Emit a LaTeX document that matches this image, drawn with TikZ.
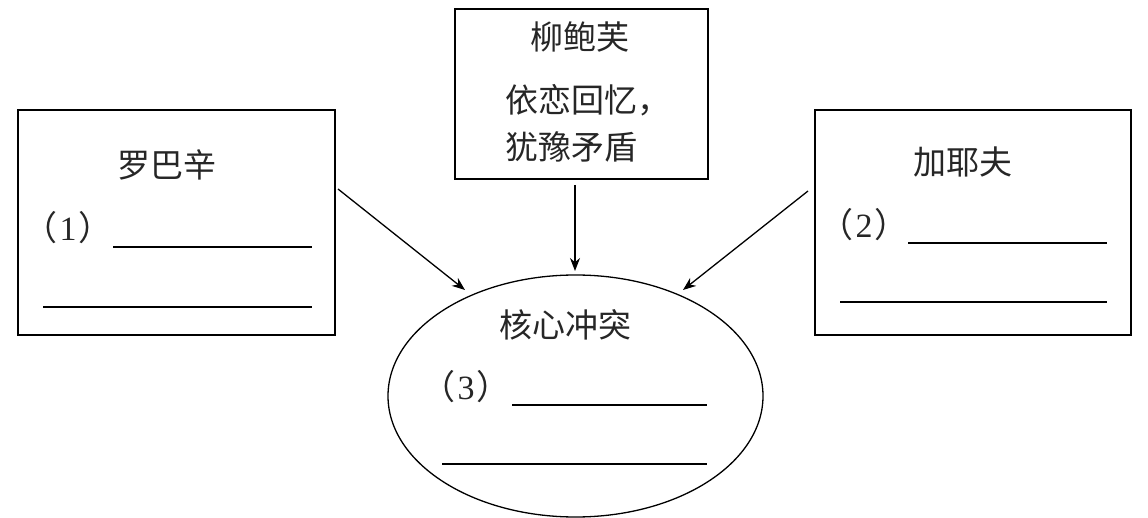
\documentclass[tikz,border=0pt]{standalone}
\usepackage{fontspec}
\setmainfont{Liberation Serif}
\newfontfamily\cjk{Noto Sans CJK SC}[Scale=1]
\usetikzlibrary{shapes.geometric,arrows.meta}
\tikzset{
  boxnode/.style={draw, line width=1.3pt, rectangle, inner sep=0pt},
  ellnode/.style={draw, line width=1.3pt, ellipse, inner sep=0pt, minimum width=375pt, minimum height=242pt},
  lbl/.style={inner sep=0pt, font=\fontsize{33}{40}\selectfont\cjk, text=black!85},
  num/.style={inner sep=0pt, font=\fontsize{34}{40}\selectfont, text=black!85},
  blank/.style={line width=1.3pt},
  arr/.style={line width=1.3pt, -{Stealth[length=13pt,width=10pt]}}
}
\newcommand{\paren}[1]{{\cjk （}\kern2pt#1\kern2pt{\cjk ）}}
\begin{document}
\begin{tikzpicture}[x=1pt,y=-1pt]
\useasboundingbox (0,0) rectangle (1148,518);
% boxes
\node[boxnode, minimum width=317pt, minimum height=225pt] (lb) at (176.5,222.5) {};
\node[boxnode, minimum width=253pt, minimum height=170pt] (tb) at (581.5,94) {};
\node[boxnode, minimum width=316pt, minimum height=225pt] (rb) at (973,222.5) {};
\node[ellnode] (el) at (575.5,396) {};
% left box content
\node[lbl] (t1) at (167,165) {罗巴辛};
\node[num] (n1) at (68,228) {\paren{1}};
\coordinate (l1a) at (113,247); \coordinate (l1b) at (312,247);
\coordinate (l2a) at (43,307);  \coordinate (l2b) at (312,307);
\draw[blank] (l1a) -- (l1b);
\draw[blank] (l2a) -- (l2b);
% top box content
\node[lbl] (t2) at (580,37) {柳鲍芙};
\node[lbl, anchor=west] (t2a) at (505,100) {依恋回忆，};
\node[lbl, anchor=west] (t2b) at (505,147) {犹豫矛盾};
% right box content
\node[lbl] (t3) at (963,162) {加耶夫};
\node[num] (n2) at (864,225) {\paren{2}};
\coordinate (r1a) at (908,243); \coordinate (r1b) at (1107,243);
\coordinate (r2a) at (840,302); \coordinate (r2b) at (1107,302);
\draw[blank] (r1a) -- (r1b);
\draw[blank] (r2a) -- (r2b);
% ellipse content
\node[lbl] (t4) at (565,325) {核心冲突};
\node[num] (n3) at (466,387) {\paren{3}};
\coordinate (e1a) at (512,405); \coordinate (e1b) at (707,405);
\coordinate (e2a) at (442,464); \coordinate (e2b) at (707,464);
\draw[blank] (e1a) -- (e1b);
\draw[blank] (e2a) -- (e2b);
% arrows
\coordinate (s1) at (338,189); \coordinate (h1) at (465,290);
\coordinate (s2) at (575,185); \coordinate (h2) at (575,271);
\coordinate (s3) at (808,191); \coordinate (h3) at (683,290);
\draw[arr] (s1) -- (h1);
\draw[arr] (s2) -- (h2);
\draw[arr] (s3) -- (h3);
\end{tikzpicture}
\end{document}
